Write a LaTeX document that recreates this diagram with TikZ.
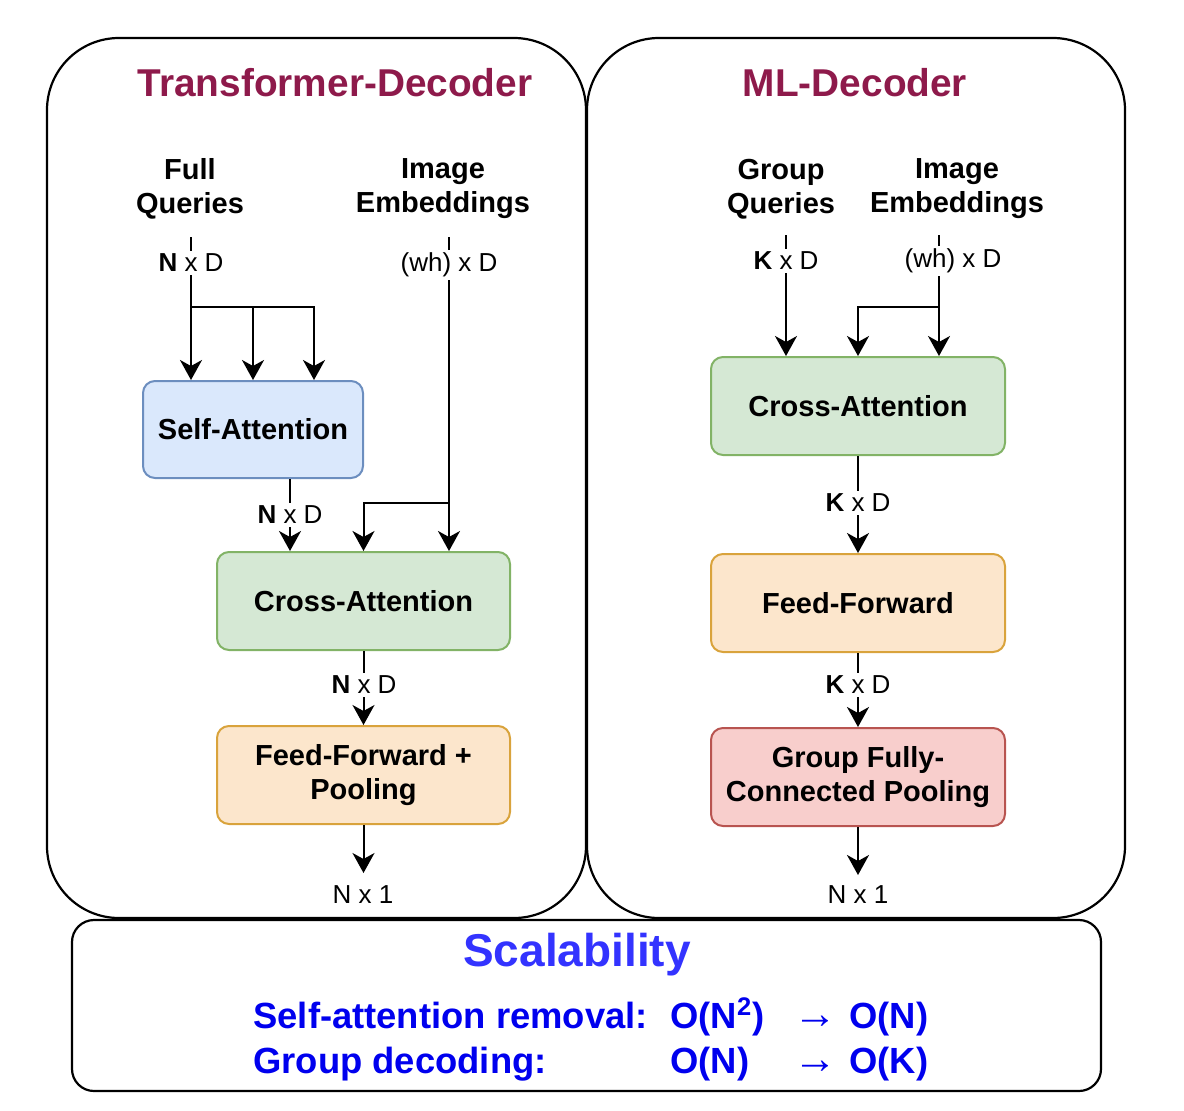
\documentclass[tikz,border=0pt]{standalone}
\usepackage{fontspec}
\setmainfont{Liberation Sans}
\usetikzlibrary{arrows.meta, positioning, calc}
\definecolor{titlered}{RGB}{142,26,75}
\definecolor{scaleblue}{RGB}{51,51,255}
\definecolor{lineblue}{RGB}{0,0,238}
\definecolor{bluefill}{HTML}{DAE8FC}
\definecolor{bluedraw}{HTML}{6C8EBF}
\definecolor{greenfill}{HTML}{D5E8D4}
\definecolor{greendraw}{HTML}{82B366}
\definecolor{orangefill}{HTML}{FCE6CC}
\definecolor{orangedraw}{HTML}{D9A33C}
\definecolor{redfill}{HTML}{F8CECC}
\definecolor{reddraw}{HTML}{B85450}

\begin{document}
\begin{tikzpicture}[
    x=0.5pt, y=-0.5pt,
    box/.style={
        rectangle, draw=#1draw, fill=#1fill, line width=1pt,
        rounded corners=6pt, minimum width=146.5pt, minimum height=49pt,
        align=center, font=\fontsize{14.5}{17}\selectfont\bfseries
    },
    box/.default=green,
    wire/.style={line width=1pt},
    arr/.style={wire, -{Stealth[length=10pt, width=11pt, inset=3pt]}},
    dimlbl/.style={fill=white, inner sep=1.5pt, font=\fontsize{13}{15}\selectfont},
    head/.style={align=center, font=\fontsize{14.5}{17}\selectfont\bfseries},
    paneltitle/.style={font=\fontsize{19.4}{22}\selectfont\bfseries, text=titlered},
    panel/.style={draw, line width=1.1pt, rounded corners=36pt},
    scaleline/.style={inner sep=0pt, font=\fontsize{18.2}{22}\selectfont\bfseries, text=lineblue}
]
    \useasboundingbox (0,0) rectangle (1184,1110);

    %% --- Panels ---
    \draw[panel] (47,38) rectangle (586,918);
    \draw[panel] (587,38) rectangle (1125,918);
    \draw[panel, rounded corners=11pt] (72,920) rectangle (1101,1091);
    \node[paneltitle] (tdtitle) at (335,83) {Transformer-Decoder};
    \node[paneltitle] (mltitle) at (855,83) {ML-Decoder};

    %% --- Left: Transformer-Decoder ---
    \node[head] (fq) at (190,189) {Full\\Queries};
    \node[head] (ie1) at (443,189) {Image\\Embeddings};
    \node[box=blue, minimum width=110pt, minimum height=48.5pt] (sa) at (253,429.5) {Self-Attention};
    \node[box=green] (ca1) at (363.5,601) {Cross-Attention};
    \node[box=orange, below=37pt of ca1] (ff1) {Feed-Forward +\\Pooling};

    \coordinate (fqin) at (191,237);
    \coordinate (fqsplit) at (191,307);
    \coordinate (iein1) at (449,237);
    \coordinate (iesplit1) at (449,503);
    \coordinate (saout) at ($(sa.south)+(37,0)$);
    \coordinate (out1) at ($(ff1.south)+(0,48)$);

    \draw[arr] (fqin) -- (fqin |- sa.north);
    \draw[arr] (fqsplit) -| (sa.north);
    \draw[arr] (fqsplit) -| ($(sa.north)+(61,0)$);
    \draw[arr] (iein1) -- (iein1 |- ca1.north);
    \draw[arr] (iesplit1) -| (ca1.north);
    \draw[arr] (saout) -- (saout |- ca1.north);
    \draw[arr] (ca1) -- (ff1);
    \draw[arr] (ff1) -- (out1);

    \node[dimlbl] (fqdim) at (191,263) {\textbf{N} x D};
    \node[dimlbl] (iedim1) at (449,265) {(wh) x D};
    \node[dimlbl] (sadim) at (290,515) {\textbf{N} x D};
    \node[dimlbl] (cadim1) at (364,685) {\textbf{N} x D};
    \node[dimlbl] (outdim1) at (363,895) {N x 1};

    %% --- Right: ML-Decoder ---
    \node[head] (gq) at (781,189) {Group\\Queries};
    \node[head] (ie2) at (957,189) {Image\\Embeddings};
    \node[box=green, minimum width=147pt] (ca2) at (858,406) {Cross-Attention};
    \node[box=orange, minimum width=147pt, below=48.5pt of ca2] (ff2) {Feed-Forward};
    \node[box=red, minimum width=147pt, below=37pt of ff2] (gp) {Group Fully-\\Connected Pooling};

    \coordinate (gqin) at (786,235);
    \coordinate (iein2) at (939,235);
    \coordinate (iesplit2) at (939,307);
    \coordinate (out2) at ($(gp.south)+(0,48)$);

    \draw[arr] (gqin) -- (gqin |- ca2.north);
    \draw[arr] (iein2) -- (iein2 |- ca2.north);
    \draw[arr] (iesplit2) -| (ca2.north);
    \draw[arr] (ca2) -- (ff2);
    \draw[arr] (ff2) -- (gp);
    \draw[arr] (gp) -- (out2);

    \node[dimlbl] (gqdim) at (786,261) {\textbf{K} x D};
    \node[dimlbl] (iedim2) at (953,261) {(wh) x D};
    \node[dimlbl] (cadim2) at (858,503) {\textbf{K} x D};
    \node[dimlbl] (ffdim2) at (858,685) {\textbf{K} x D};
    \node[dimlbl] (outdim2) at (858,895) {N x 1};

    %% --- Bottom: Scalability ---
    \node[font=\fontsize{23}{27}\selectfont\bfseries, text=scaleblue] (scal) at (577,955) {Scalability};
    \node[scaleline, anchor=base west] (sarem) at (253,1028)
        {\makebox[208.5pt][l]{Self-attention removal:}\makebox[61.5pt][l]{O(N\textsuperscript{2})}\makebox[28pt][l]{\fontsize{22}{22}\selectfont→}O(N)};
    \node[scaleline, anchor=base west] (grdec) at (253,1073)
        {\makebox[208.5pt][l]{Group decoding:}\makebox[61.5pt][l]{O(N)}\makebox[28pt][l]{\fontsize{22}{22}\selectfont→}O(K)};
\end{tikzpicture}
\end{document}
